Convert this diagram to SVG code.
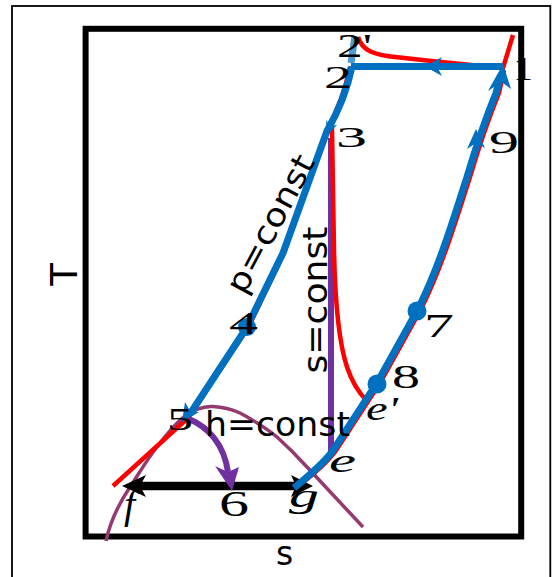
<svg xmlns="http://www.w3.org/2000/svg" width="555" height="577" viewBox="0 0 555 577">
<style>
.frame{fill:none;stroke:#000;stroke-width:1.8}
.box{fill:none;stroke:#000;stroke-width:6}
.dome{fill:none;stroke:#953A6E;stroke-width:3.5}
.red{fill:none;stroke:#FF0000;stroke-width:4.5;stroke-linecap:butt}
.blue{fill:none;stroke:#0070C0;stroke-width:7;stroke-linejoin:round}
.blueHead{fill:#0070C0}
.purple{fill:none;stroke:#7030A0;stroke-width:6}
.purpleHead{fill:#7030A0}
.black{fill:none;stroke:#000;stroke-width:8.5}
.blackHead{fill:#000}
.dot{fill:#0070C0}
.sans{font-family:"DejaVu Sans","Liberation Sans",sans-serif;fill:#000}
.num{font-family:"Liberation Serif","DejaVu Serif",serif;fill:#000}
.it{font-family:"Liberation Serif","DejaVu Serif",serif;font-style:italic;fill:#000}
</style>
<rect class="frame" x="12" y="6" width="538.3" height="590"/>
<rect class="box" x="85.6" y="28.8" width="435.6" height="507.7"/>
<text class="sans" transform="translate(77,274.5) rotate(-90)" text-anchor="middle" font-size="37">T</text>
<text class="sans" x="284.5" y="565" text-anchor="middle" font-size="33">s</text>

<g id="connectors">
  <path id="dome" class="dome" d="M106 541 C110 522,118 505,130 487 C140 472,148 458,157 447 C167 434,175 424,184 417 C193 410,203 406,213 406.5 C222 407,231 409,240 413 C253 420,266 428,277 437 C287 446,297 456,307 467 L363 527"/>
  <path class="red" d="M358 37 C362 50,372 55,400 57.5 C430 61,470 65,503 68 L513 35"/>
  <path class="red" d="M350 67 Q343 100,327 131 L284 253 L248 328 L188 418 L113 486"/>
  <path class="red" d="M297 487 C313 475,325 465,335 452 L380 383 L420 311 C442 268,456 220,470 177 C478 150,488 120,499 93 L504 70"/>
  <path class="purple" d="M331 138 L331 454"/>
  <path class="red" d="M332 128 L334 250 C335 300,338 340,347 367 C352 382,358 392,367 401"/>
  <path class="blue" d="M355 36 L351 63" stroke-opacity="0.7"/>
  <path class="blue" d="M503 66.5 L351 66.5"/>
  <polygon class="blueHead" points="425,66.5 442,57 437,66.5 442,76"/>
  <path class="blue" d="M352 66.5 Q345 100,327 131 L283 253 L247 327 L190 414"/>
  <polygon class="blueHead" points="327,135 337,125 330,126 326,120"/>
  <polygon class="blueHead" points="182,422 199,412 190,411 185,402"/>
  <path class="black" d="M138 486 L300 486"/>
  <polygon class="blackHead" points="122,486 146,475 140,486 146,497"/>
  <polygon class="blackHead" points="313,486 291,475 296,486 291,497"/>
  <path class="blue" d="M294 488 C310 475,322 465,332 452 L377 383 L417 311 C439 268,453 220,467 177 C475 150,485 120,496 93 L501 75"/>
  <polygon class="blueHead" points="476,129 467,149 476,143 485,148"/>
  <polygon class="blueHead" points="503,64 488,91 501.5,82 511,89"/>
  <path class="purple" d="M189 419 C208 427,224 444,228 472"/>
  <polygon class="purpleHead" points="232,491 215,466 228,472 239,467"/>
</g>

<g id="node-1"><text class="num" x="513" y="80" font-size="33" textLength="20" lengthAdjust="spacingAndGlyphs">1</text></g>
<g id="node-2p"><text class="num" x="337" y="57" font-size="34" textLength="35" lengthAdjust="spacingAndGlyphs">2'</text></g>
<g id="node-2"><text class="num" x="324" y="88" font-size="32" textLength="28" lengthAdjust="spacingAndGlyphs">2</text></g>
<g id="node-3"><text class="num" x="336" y="147" font-size="30" textLength="31" lengthAdjust="spacingAndGlyphs">3</text></g>
<g id="node-4"><circle class="dot" cx="247" cy="327" r="9"/><text class="num" x="229" y="334" font-size="32" textLength="29" lengthAdjust="spacingAndGlyphs">4</text></g>
<g id="node-5"><text class="num" x="167" y="430" font-size="32" textLength="26" lengthAdjust="spacingAndGlyphs">5</text></g>
<g id="node-6"><text class="num" x="219" y="516" font-size="36" textLength="30" lengthAdjust="spacingAndGlyphs">6</text></g>
<g id="node-7"><circle class="dot" cx="417" cy="311" r="9.5"/><text class="num" x="424" y="337" font-size="34" textLength="30" lengthAdjust="spacingAndGlyphs">7</text></g>
<g id="node-8"><circle class="dot" cx="377" cy="384" r="9.5"/><text class="num" x="392" y="388" font-size="34" textLength="28" lengthAdjust="spacingAndGlyphs">8</text></g>
<g id="node-9"><text class="num" x="489" y="153" font-size="32" textLength="30" lengthAdjust="spacingAndGlyphs">9</text></g>
<g id="node-e-prime"><text class="it" x="366" y="420" font-size="34" textLength="32" lengthAdjust="spacingAndGlyphs">e'</text></g>
<g id="node-e"><text class="it" x="329" y="472" font-size="34" textLength="27" lengthAdjust="spacingAndGlyphs">e</text></g>
<g id="node-g"><text class="it" x="289" y="507" font-size="34" textLength="30" lengthAdjust="spacingAndGlyphs">g</text></g>
<g id="node-f"><text class="it" x="124" y="518" font-size="40">f</text></g>

<g id="label-p"><text class="sans" transform="translate(280,229) rotate(-62)" text-anchor="middle" font-size="32" textLength="152" lengthAdjust="spacingAndGlyphs">p=const</text></g>
<g id="label-s"><text class="sans" transform="translate(327,300) rotate(-90)" text-anchor="middle" font-size="33" textLength="147" lengthAdjust="spacingAndGlyphs">s=const</text></g>
<g id="label-h"><text class="sans" x="205" y="436" font-size="33" textLength="145" lengthAdjust="spacingAndGlyphs">h=const</text></g>
</svg>
